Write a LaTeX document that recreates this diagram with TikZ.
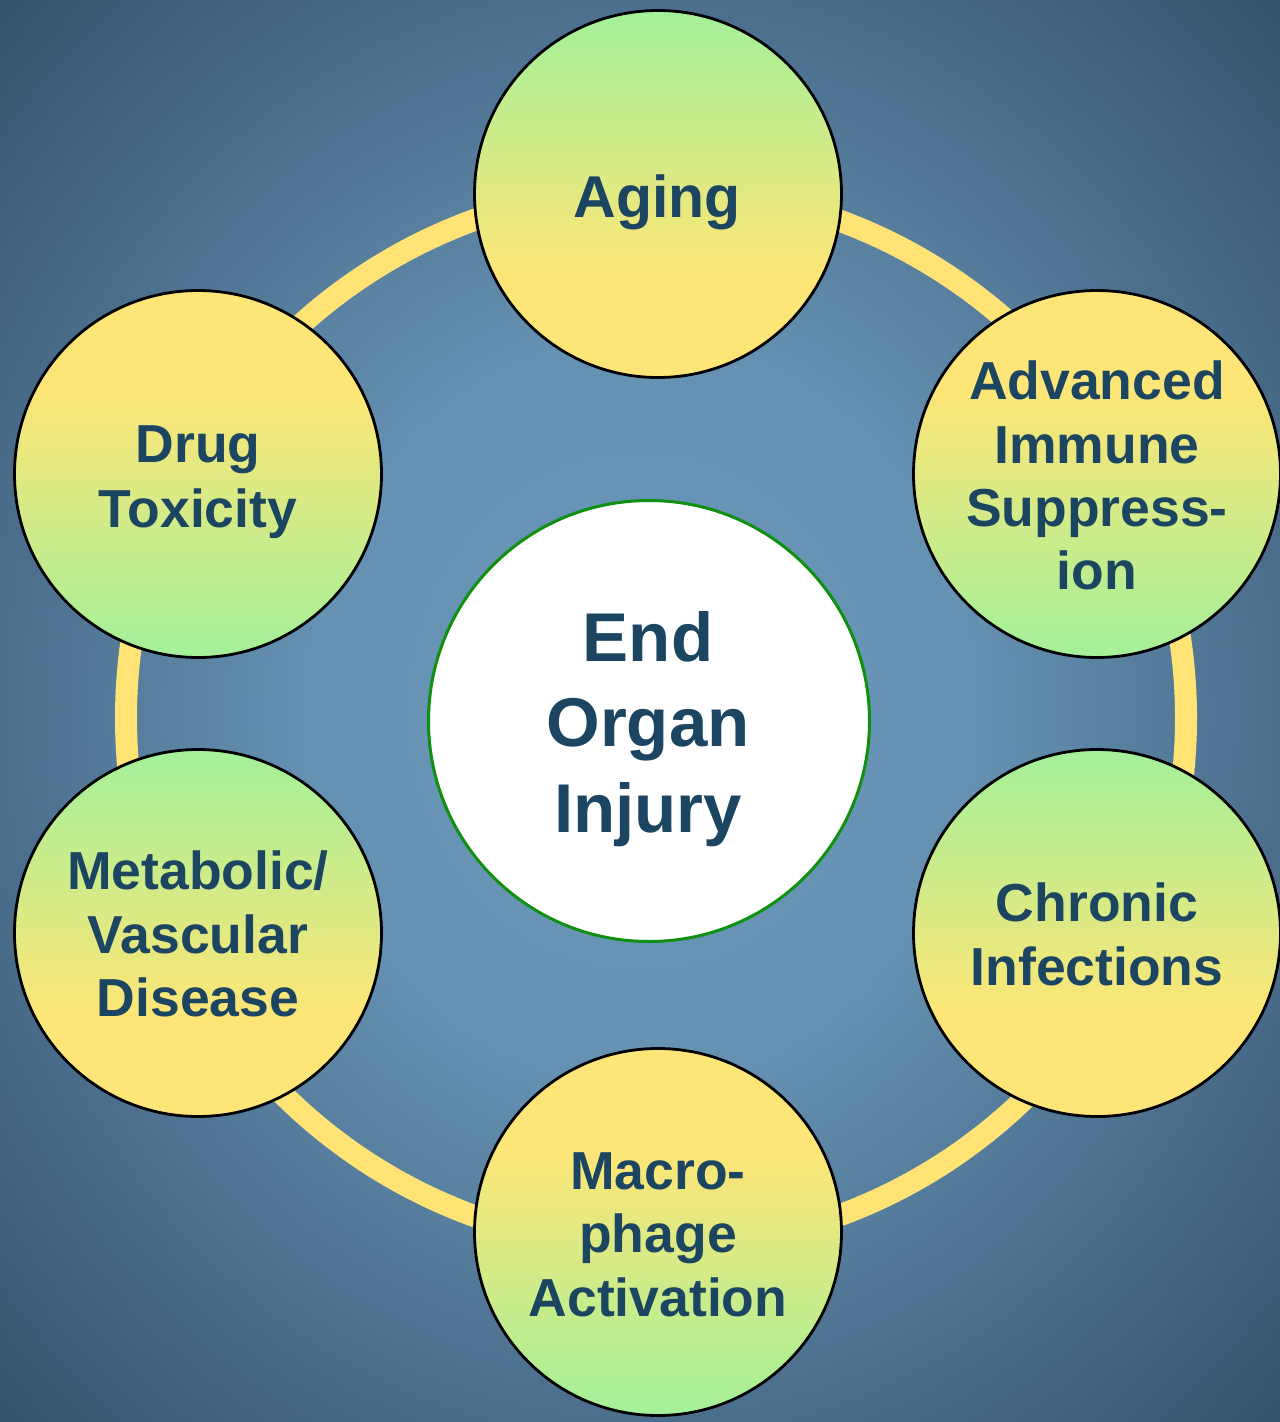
\documentclass[tikz,border=0pt]{standalone}
\usepackage{fontspec}
\setmainfont{Liberation Sans}
\definecolor{bgc0}{HTML}{6A99BB}
\definecolor{bgc1}{HTML}{6591B2}
\definecolor{bgc2}{HTML}{4B6E8C}
\definecolor{bgc3}{HTML}{33536D}
\definecolor{grn}{HTML}{A3F09A}
\definecolor{yel}{HTML}{FDE677}
\definecolor{ringc}{HTML}{FFE375}
\definecolor{txt}{HTML}{1C4562}
\definecolor{cborder}{HTML}{109010}
\pgfdeclareradialshading{bgshade}{\pgfpoint{0bp}{0bp}}{color(0bp)=(bgc0); color(13bp)=(bgc1); color(25bp)=(bgc2); color(35.36bp)=(bgc3); color(50bp)=(bgc3)}
\pgfdeclareverticalshading{greentop}{100bp}{color(0bp)=(yel); color(39bp)=(yel); color(75bp)=(grn); color(100bp)=(grn)}
\pgfdeclareverticalshading{yellowtop}{100bp}{color(0bp)=(grn); color(25bp)=(grn); color(61bp)=(yel); color(100bp)=(yel)}
\tikzset{
  bubble/.style={circle, draw=black, line width=2.8pt, minimum size=367pt, inner sep=0pt},
  ringline/.style={draw=ringc, line width=22pt},
  lbl/.style={text=txt, inner sep=0pt, anchor=base, font=\bfseries\fontsize{53.5}{53.5}\selectfont},
  biglbl/.style={lbl, font=\bfseries\fontsize{69}{69}\selectfont},
}
\begin{document}
\begin{tikzpicture}[x=1pt, y=-1pt]
\useasboundingbox (0,0) rectangle (1280,1422);
\fill[shading=bgshade] (0,0) rectangle (1280,1422);
% ring
\coordinate (ringc) at (656,718);
\draw[ringline] (ringc) circle[radius=530pt];
% centre
\node[circle, draw=cborder, line width=3pt, fill=white, minimum size=441pt, inner sep=0pt] (center) at (649,721) {};
\node[biglbl] (c1) at (648,661) {End};
\node[biglbl] (c2) at (648,746) {Organ};
\node[biglbl] (c3) at (648,832) {Injury};
% outer bubbles
\node[bubble, shading=greentop] (aging) at (658,194) {};
\node[bubble, shading=yellowtop] (adv) at (1097,474) {};
\node[bubble, shading=greentop] (chronic) at (1097,933) {};
\node[bubble, shading=yellowtop] (macro) at (658,1232) {};
\node[bubble, shading=greentop] (meta) at (198,933) {};
\node[bubble, shading=yellowtop] (drug) at (198,474) {};
% labels
\node[lbl, font=\bfseries\fontsize{59}{59}\selectfont] (agingT) at (657,217) {Aging};
\node[lbl] (adv1) at (1097,399) {Advanced};
\node[lbl] (adv2) at (1097,463) {Immune};
\node[lbl] (adv3) at (1097,526) {Suppress-};
\node[lbl] (adv4) at (1097,589) {ion};
\node[lbl] (chr1) at (1097,921) {Chronic};
\node[lbl] (chr2) at (1097,985) {Infections};
\node[lbl] (mac1) at (658,1189) {Macro-};
\node[lbl] (mac2) at (658,1252) {phage};
\node[lbl] (mac3) at (658,1316) {Activation};
\node[lbl] (met1) at (198,889) {Metabolic/};
\node[lbl] (met2) at (198,953) {Vascular};
\node[lbl] (met3) at (198,1016) {Disease};
\node[lbl] (drg1) at (198,462) {Drug};
\node[lbl] (drg2) at (198,527) {Toxicity};
\end{tikzpicture}
\end{document}
